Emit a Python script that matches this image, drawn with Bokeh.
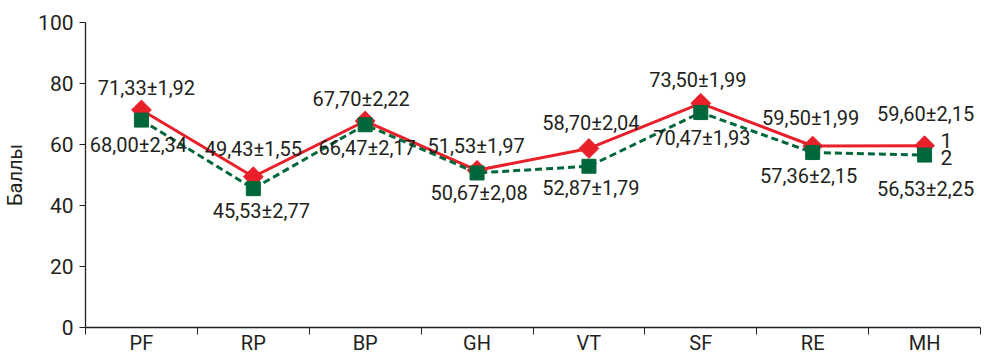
from bokeh.plotting import figure
from bokeh.models import ColumnDataSource, Range1d, FixedTicker
from bokeh.core.properties import value
from bokeh.embed import file_html
from bokeh.resources import INLINE

categories = ["PF", "RP", "BP", "GH", "VT", "SF", "RE", "MH"]
series1 = [71.33, 49.43, 67.70, 51.53, 58.70, 73.50, 59.50, 59.60]
series1_sd = [1.92, 1.55, 2.22, 1.97, 2.04, 1.99, 1.99, 2.15]
series2 = [68.00, 45.53, 66.47, 50.67, 52.87, 70.47, 57.36, 56.53]
series2_sd = [2.34, 2.77, 2.17, 2.08, 1.79, 1.93, 2.15, 2.25]
y_ticks = [0, 20, 40, 60, 80, 100]

# label placement (screen pixels, layout only)
off1_x = [5, 0, -4, -1, 2, -3, -2, 1]
off1_y = [-22, -28, -22, -24, -25, -23, -28, -32]
off2_x = [-3, 8, 2, 2, 2, 1, -4, 1]
off2_y = [25, 22, 23, 20, 22, 25, 23, 34]

FONT = "Roboto"
RED = "#E8202A"
GREEN = "#00673A"
TXT = "#231F20"


def fmt(v, s):
    return f"{v:.2f}".replace(".", ",") + "±" + f"{s:.2f}".replace(".", ",")


xs = [i + 0.5 for i in range(len(categories))]
src1 = ColumnDataSource(dict(x=xs, y=series1,
                             t=[fmt(v, s) for v, s in zip(series1, series1_sd)],
                             ox=off1_x, oy=off1_y))
src2 = ColumnDataSource(dict(x=xs, y=series2,
                             t=[fmt(v, s) for v, s in zip(series2, series2_sd)],
                             ox=off2_x, oy=off2_y))

p = figure(width=988, height=357, output_backend="svg", toolbar_location=None,
           x_range=Range1d(0, len(categories)), y_range=Range1d(0, 100),
           min_border_left=84, min_border_right=8, min_border_top=22, min_border_bottom=30)
p.outline_line_color = None
p.xgrid.grid_line_color = None
p.ygrid.grid_line_color = None
p.background_fill_color = "white"
p.border_fill_color = "white"

# lines and markers
p.line("x", "y", source=src1, line_color=RED, line_width=3)
p.scatter("x", "y", source=src1, marker="square", size=14, angle=0.785398,
          fill_color=RED, line_color=RED)
p.line("x", "y", source=src2, line_color=GREEN, line_width=3, line_dash="7 4")
p.scatter("x", "y", source=src2, marker="square", size=14,
          fill_color=GREEN, line_color=GREEN)

# value labels
for src in (src1, src2):
    p.text("x", "y", text="t", source=src, x_offset="ox", y_offset="oy",
           text_font=value(FONT), text_font_size="20px", text_color=TXT,
           text_align="center", text_baseline="middle")

# series labels
p.text(x=[xs[-1]], y=[series1[-1]], text=["1"], x_offset=16, y_offset=-5,
       text_font=value(FONT), text_font_size="21px", text_color=TXT,
       text_align="left", text_baseline="middle")
p.text(x=[xs[-1]], y=[series2[-1]], text=["2"], x_offset=16, y_offset=2,
       text_font=value(FONT), text_font_size="21px", text_color=TXT,
       text_align="left", text_baseline="middle")

# x axis: labels at centres, ticks at boundaries
xa = p.xaxis[0]
xa.ticker = FixedTicker(ticks=xs, minor_ticks=list(range(len(categories) + 1)))
xa.major_label_overrides = {x: c for x, c in zip(xs, categories)}
xa.major_tick_out = 0
xa.major_tick_in = 0
xa.minor_tick_out = 7
xa.minor_tick_in = 0
xa.minor_tick_line_color = TXT
xa.axis_line_color = TXT
xa.axis_line_width = 1.3
xa.major_label_text_font = FONT
xa.major_label_text_font_size = "20px"
xa.major_label_text_color = TXT
xa.major_label_standoff = -4

ya = p.yaxis[0]
ya.ticker = FixedTicker(ticks=y_ticks)
ya.major_tick_out = 6
ya.major_tick_in = 0
ya.minor_tick_line_color = None
ya.axis_line_color = TXT
ya.axis_line_width = 1.3
ya.major_tick_line_color = TXT
ya.major_label_text_font = FONT
ya.major_label_text_font_size = "21px"
ya.major_label_text_color = TXT
ya.major_label_standoff = 6
ya.axis_label = "Баллы"
ya.axis_label_text_font = FONT
ya.axis_label_text_font_size = "20px"
ya.axis_label_text_font_style = "normal"
ya.axis_label_text_color = TXT
ya.axis_label_standoff = 8

open("out.html", "w").write(file_html(p, INLINE))
